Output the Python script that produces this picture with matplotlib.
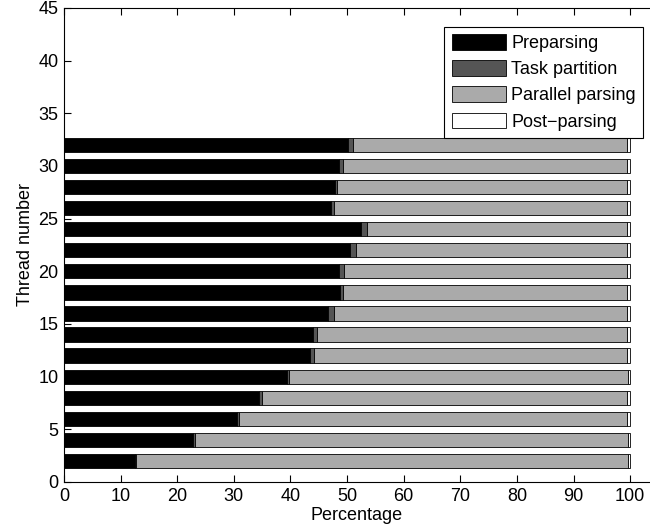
import matplotlib
matplotlib.use('Agg')
import matplotlib.pyplot as plt
import numpy as np

plt.rcParams['font.family'] = ['Liberation Sans', 'DejaVu Sans']

threads = [2, 4, 6, 8, 10, 12, 14, 16, 18, 20, 22, 24, 26, 28, 30, 32]
preparsing = [12.5, 22.7, 30.5, 34.5, 39.3, 43.4, 44.0, 46.7, 48.8, 48.6, 50.5, 52.5, 47.1, 47.8, 48.6, 50.2]
task_partition = [0.3, 0.4, 0.4, 0.4, 0.5, 0.8, 0.6, 0.9, 0.4, 0.9, 1.0, 1.0, 0.5, 0.5, 0.6, 0.8]
parallel_parsing = [86.9, 76.6, 68.6, 64.6, 59.8, 55.3, 54.8, 51.8, 50.2, 49.9, 47.9, 45.9, 51.8, 51.1, 50.2, 48.4]
post_parsing = [100 - a - b - c for a, b, c in zip(preparsing, task_partition, parallel_parsing)]

labels = ['Preparsing', 'Task partition', 'Parallel parsing', 'Post\u2212parsing']
colors = ['#000000', '#555555', '#aaaaaa', '#ffffff']

fig = plt.figure(figsize=(6.5, 5.25), dpi=100)
ax = fig.add_axes([64/650, 43/525, 586/650, 474/525])

left = np.zeros(len(threads))
for vals, lab, col in zip([preparsing, task_partition, parallel_parsing, post_parsing], labels, colors):
    ax.barh(threads, vals, left=left, height=1.35, color=col, edgecolor='black',
            linewidth=0.6, label=lab)
    left = left + np.array(vals)

ax.set_xlim(0, 103.5)
ax.set_ylim(0, 45)
ax.set_xticks(np.arange(0, 101, 10))
ax.set_yticks(np.arange(0, 46, 5))
ax.tick_params(direction='in', top=True, right=False, labelsize=13, length=5, pad=4)
ax.spines['right'].set_visible(False)
ax.set_xlabel('Percentage', fontsize=13, labelpad=2)
ax.set_ylabel('Thread number', fontsize=13, labelpad=3)

leg = ax.legend(loc='upper right', bbox_to_anchor=(643/650, 1 - 27/525), bbox_transform=fig.transFigure,
                fancybox=False, edgecolor='black', framealpha=1, fontsize=13,
                handlelength=3.0, handleheight=0.95, borderaxespad=0, labelspacing=0.45,
                handletextpad=0.3, borderpad=0.4)
leg.get_frame().set_linewidth(0.8)

fig.savefig('out.png', dpi=100)
